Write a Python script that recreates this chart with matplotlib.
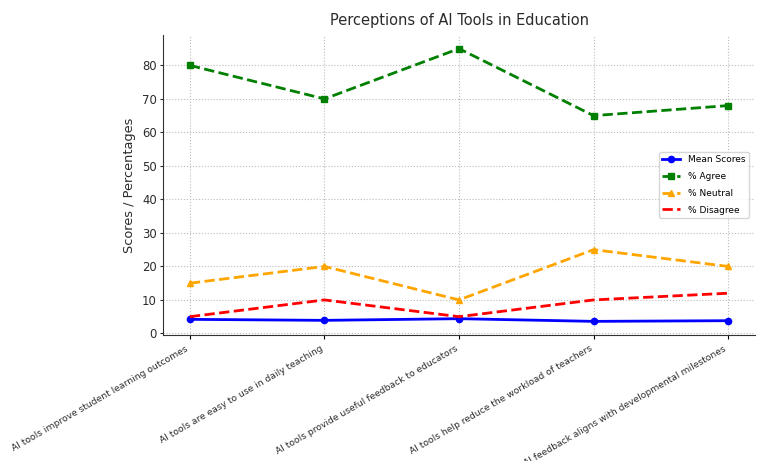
import numpy as np
import matplotlib.pyplot as plt

statements = [
    "AI tools improve student learning outcomes",
    "AI tools are easy to use in daily teaching",
    "AI tools provide useful feedback to educators",
    "AI tools help reduce the workload of teachers",
    "AI feedback aligns with developmental milestones",
]
mean_scores = [4.2, 3.9, 4.4, 3.6, 3.8]
pct_agree = [80, 70, 85, 65, 68]
pct_neutral = [15, 20, 10, 25, 20]
pct_disagree = [5, 10, 5, 10, 12]


def plot_perceptions():
    fig = plt.figure(figsize=(7.57, 4.61), dpi=100)
    ax = fig.add_axes([163 / 757, (461 - 335) / 461, 592 / 757, 300 / 461])

    x = np.arange(len(statements))
    ax.plot(x, mean_scores, marker="o", color="blue", linewidth=2,
            markersize=4.5, label="Mean Scores")
    ax.plot(x, pct_agree, marker="s", linestyle="--", color="green",
            linewidth=2, markersize=4.5, label="% Agree")
    ax.plot(x, pct_neutral, marker="^", linestyle="--", color="orange",
            linewidth=2, markersize=4.5, label="% Neutral")
    ax.plot(x, pct_disagree, linestyle="--", color="red", linewidth=2,
            label="% Disagree")

    ax.set_xticks(x)
    ax.set_xticklabels(statements, rotation=30, ha="right", fontsize=6.6,
                       color="#2b2b2b")
    ax.tick_params(axis="y", labelsize=8.4, colors="#2b2b2b", length=2.5,
                   pad=2)
    ax.tick_params(axis="x", length=3)
    ax.set_ylabel("Scores / Percentages", fontsize=9.3, color="#2b2b2b",
                  labelpad=4)
    ax.set_title("Perceptions of AI Tools in Education", fontsize=10.5,
                 color="#2b2b2b", pad=7)

    ax.grid(True, linestyle=":", color="#bbbbbb", linewidth=0.8)
    for side in ("top", "right"):
        ax.spines[side].set_visible(False)
    for side in ("left", "bottom"):
        ax.spines[side].set_color("#333333")

    ax.legend(loc="center right", fontsize=6.5, frameon=True,
              labelspacing=0.85, bbox_to_anchor=(0.997, 0.5))

    fig.savefig("out.png", dpi=100)


if __name__ == '__main__':
    plot_perceptions()
